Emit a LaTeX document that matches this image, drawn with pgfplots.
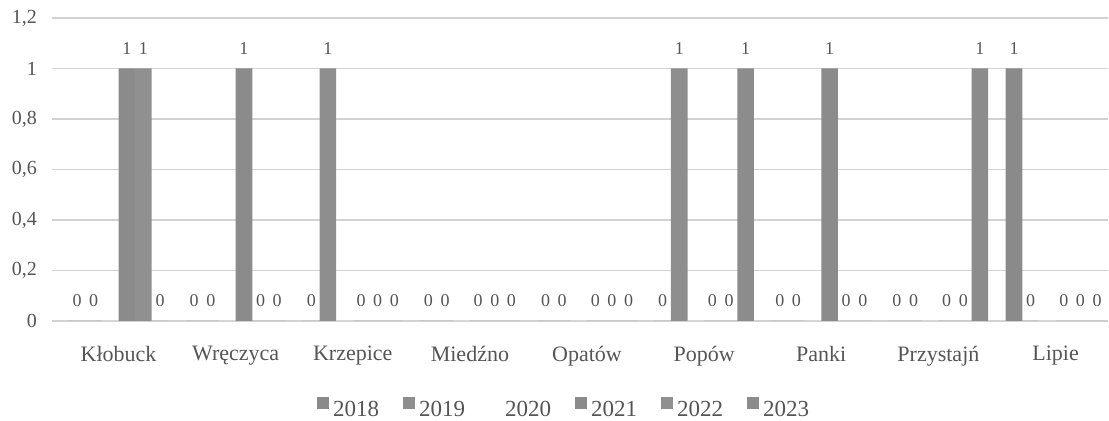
\documentclass[border=0pt]{standalone}
\usepackage{fontspec}
\setmainfont{Liberation Serif}
\usepackage{pgfplots}
\usepackage{pgfplotstable}
\pgfplotsset{compat=1.18}
\definecolor{txt}{HTML}{555555}
\definecolor{gridc}{HTML}{D2D2D2}
\definecolor{c18}{HTML}{8A8A8A}
\definecolor{c19}{HTML}{8E8E8E}
\definecolor{c20}{HTML}{FFFFFF}
\definecolor{c21}{HTML}{8B8B8B}
\definecolor{c22}{HTML}{909090}
\definecolor{c23}{HTML}{8C8C8C}
\pgfplotstableread{
x y2018 y2019 y2020 y2021 y2022 y2023
0 0 0 0 1 1 0
1 0 0 0 1 0 0
2 0 1 0 0 0 0
3 0 0 0 0 0 0
4 0 0 0 0 0 0
5 0 1 0 0 0 1
6 0 0 0 1 0 0
7 0 0 0 0 0 1
8 1 0 0 0 0 0
}\datatable
\begin{document}
\begin{tikzpicture}
\begin{axis}[
  at={(0,0)}, anchor=south west,
  scale only axis, width=528pt, height=151.5pt,
  xmin=-0.568, xmax=8.448, ymin=0, ymax=1.2,
  ybar=0pt, bar width=8.3pt,
  xtick={0,1,2,3,4,5,6,7,8},
  xticklabels={Kłobuck,Wręczyca,Krzepice,Miedźno,Opatów,Popów,Panki,Przystajń,Lipie},
  ytick={0,0.2,0.4,0.6,0.8,1,1.2},
  ymajorgrids, grid style={gridc, line width=0.6pt},
  axis line style={draw=none}, major tick length=0pt,
  tick label style={text=txt},
  /pgf/number format/use comma,
  /pgf/number format/assume math mode=true,
  yticklabel={\pgfmathprintnumber[fixed,precision=1,use comma]{\tick}},
  yticklabel style={font=\fontsize{10}{12}\selectfont, xshift=-4pt},
  xticklabel style={font=\fontsize{11}{13}\selectfont, yshift=-9pt},
  every node near coord/.append style={font=\fontsize{9}{10}\selectfont, text=txt, yshift=3.5pt},
  legend style={at={(0.486,-0.294)}, anchor=center, draw=none, fill=none,
    font=\fontsize{11.5}{13}\selectfont, text=txt,
    /tikz/every even column/.append style={column sep=10pt}},
  legend columns=6,
  legend image code/.code={\fill[#1] (0pt,0.5pt) rectangle (6pt,6.5pt);},
]
\addplot[fill=c18, draw=none, nodes near coords] table[x=x, y=y2018] {\datatable};
\addplot[fill=c19, draw=none, nodes near coords] table[x=x, y=y2019] {\datatable};
\addplot[fill=c20, draw=none] table[x=x, y=y2020] {\datatable};
\addplot[fill=c21, draw=none, nodes near coords] table[x=x, y=y2021] {\datatable};
\addplot[fill=c22, draw=none, nodes near coords] table[x=x, y=y2022] {\datatable};
\addplot[fill=c23, draw=none, nodes near coords] table[x=x, y=y2023] {\datatable};
\legend{2018,2019,2020,2021,2022,2023}
\end{axis}
\pgfresetboundingbox
\useasboundingbox (-26pt,-50pt) rectangle (528.5pt,160.5pt);
\end{tikzpicture}
\end{document}
